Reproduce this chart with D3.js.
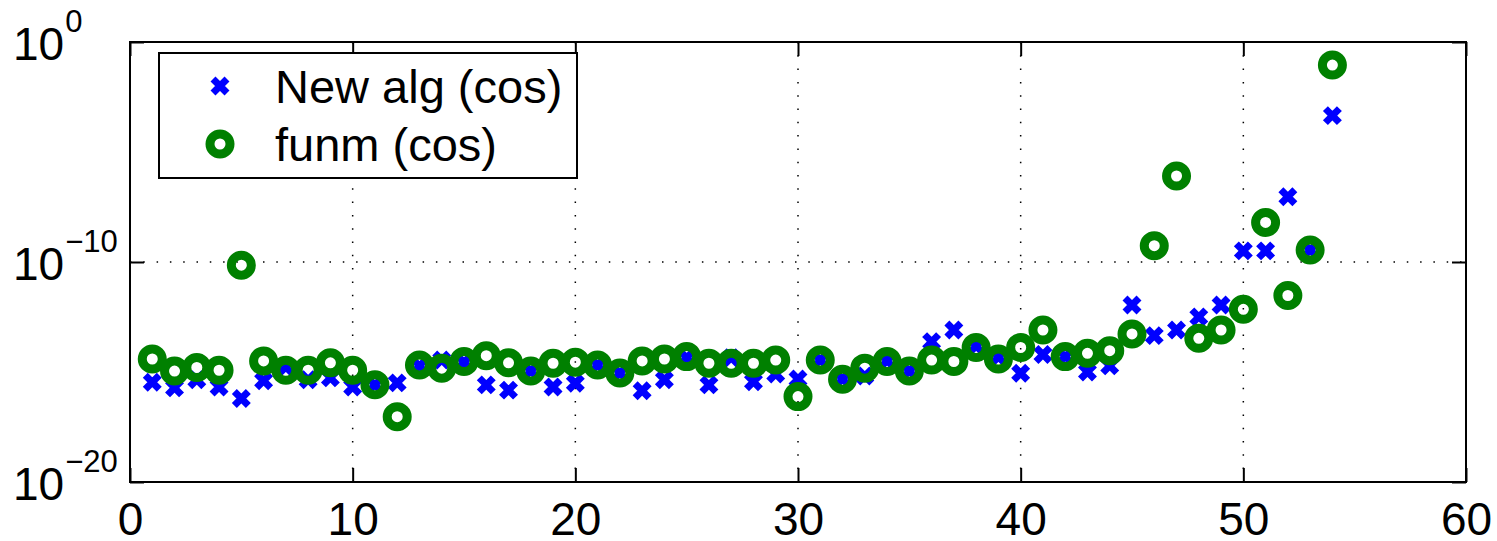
<!DOCTYPE html>
<html>
<head>
<meta charset="utf-8">
<script src="https://cdn.jsdelivr.net/npm/d3@7"></script>
<style>
  body { margin: 0; background: #fff; }
  text { font-family: "Liberation Sans", Arial, Helvetica, sans-serif; fill: #000; }
</style>
</head>
<body>
<div id="chart"></div>
<script>
// data: index 1..54
var idx = d3.range(1, 55);

var newAlg = [
  3.4e-16, 1.9e-16, 4.4e-16, 2.1e-16, 6.3e-17, 4.0e-16, 1.7e-15, 4.4e-16, 5.4e-16, 2.1e-16,
  2.6e-16, 3.2e-16, 1.9e-15, 3.5e-15, 2.8e-15, 2.6e-16, 1.5e-16, 1.1e-15, 2.1e-16, 3.1e-16,
  2.1e-15, 8.9e-16, 1.4e-16, 4.4e-16, 4.4e-15, 2.6e-16, 4.4e-15, 3.6e-16, 8.1e-16, 4.8e-16,
  3.5e-15, 4.8e-16, 6.6e-16, 3.2e-15, 1.1e-15, 2.4e-14, 8.1e-14, 1.5e-14, 4.8e-15, 8.7e-16,
  6.3e-15, 5.0e-15, 1.0e-15, 1.9e-15, 1.1e-12, 4.5e-14, 8.1e-14, 3.2e-13, 1.1e-12, 3.2e-10,
  3.2e-10, 9.3e-8, 3.5e-10, 4.5e-4
];

var funm = [
  3.9e-15, 1.1e-15, 1.6e-15, 1.2e-15, 7.2e-11, 3.2e-15, 1.2e-15, 1.2e-15, 2.6e-15, 1.2e-15,
  2.6e-16, 9.3e-18, 2.1e-15, 1.5e-15, 3.0e-15, 5.5e-15, 2.6e-15, 1.1e-15, 2.5e-15, 2.8e-15,
  2.1e-15, 8.9e-16, 3.2e-15, 3.9e-15, 5.0e-15, 2.5e-15, 2.5e-15, 2.5e-15, 3.5e-15, 7.6e-17,
  3.5e-15, 4.7e-16, 1.5e-15, 3.0e-15, 1.1e-15, 3.5e-15, 3.0e-15, 1.3e-14, 3.9e-15, 1.3e-14,
  8.1e-14, 5.0e-15, 7.1e-15, 9.3e-15, 5.4e-14, 5.5e-10, 8.1e-7, 3.4e-14, 8.1e-14, 7.1e-13,
  6.3e-9, 3.0e-12, 3.5e-10, 8.9e-2
];

var xTicks = [0, 10, 20, 30, 40, 50, 60];
var yTicks = [1e-20, 1e-10, 1e0];
var yExps = ["\u221220", "\u221210", "0"];
var legendLabels = ["New alg (cos)", "funm (cos)"];

var svgWidth = 1497;
var svgHeight = 541;

var margin = { top: 42, bottom: 59, left: 130, right: 31 };
var width = svgWidth - margin.left - margin.right;
var height = svgHeight - margin.top - margin.bottom;

var svg = d3.select("#chart").append("svg")
  .attr("width", svgWidth).attr("height", svgHeight);

var chartGroup = svg.append("g")
  .attr("transform", `translate(${margin.left}, ${margin.top})`);

var x = d3.scaleLinear().domain([0, 60]).range([0, width]);
var y = d3.scaleLog().domain([1e-20, 1e0]).range([height, 0]);

// dotted grid
chartGroup.selectAll(".xgrid")
  .data(xTicks.slice(1, -1))
  .enter().append("line")
  .attr("x1", d => x(d)).attr("x2", d => x(d))
  .attr("y1", 0).attr("y2", height)
  .attr("stroke", "#000").attr("stroke-width", 1.5)
  .attr("stroke-dasharray", "1.5,11.8");

chartGroup.selectAll(".ygrid")
  .data(yTicks.slice(1, -1))
  .enter().append("line")
  .attr("x1", 0).attr("x2", width)
  .attr("y1", d => y(d)).attr("y2", d => y(d))
  .attr("stroke", "#000").attr("stroke-width", 1.5)
  .attr("stroke-dasharray", "1.5,11.8");

// axes, ticks point inward
var bottomAxis = d3.axisBottom(x).tickValues(xTicks).tickSize(-14).tickPadding(20);
var topAxis = d3.axisTop(x).tickValues(xTicks).tickSize(-14).tickFormat("");
var leftAxis = d3.axisLeft(y).tickValues(yTicks).tickSize(-14).tickFormat("");
var rightAxis = d3.axisRight(y).tickValues(yTicks).tickSize(-14).tickFormat("");

function styleAxis(g) {
  g.select(".domain").remove();
  g.selectAll(".tick line").attr("stroke", "#000").attr("stroke-width", 2);
  g.selectAll("text").attr("font-size", 46)
    .attr("font-family", "'Liberation Sans', Arial, sans-serif");
}

chartGroup.append("g").attr("transform", `translate(0, ${height})`).call(bottomAxis).call(styleAxis);
chartGroup.append("g").call(topAxis).call(styleAxis);
chartGroup.append("g").call(leftAxis).call(styleAxis);
chartGroup.append("g").attr("transform", `translate(${width}, 0)`).call(rightAxis).call(styleAxis);

// y labels as 10^n, left aligned like the original
var yLab = chartGroup.selectAll(".ylab")
  .data(yTicks)
  .enter().append("text")
  .attr("x", -117)
  .attr("y", d => y(d) + 18)
  .attr("text-anchor", "start")
  .attr("font-size", 46);
yLab.append("tspan").text("10");
yLab.append("tspan")
  .attr("dx", 1)
  .attr("dy", -28)
  .attr("font-size", 31)
  .text((d, i) => yExps[i]);

// box
chartGroup.append("rect")
  .attr("width", width).attr("height", height)
  .attr("fill", "none").attr("stroke", "#000").attr("stroke-width", 2);

// markers
var xPath = "M-7,-7L7,7M-7,7L7,-7";

chartGroup.selectAll(".newalg")
  .data(idx)
  .enter().append("path")
  .attr("d", xPath)
  .attr("transform", (d, i) => `translate(${x(d)}, ${y(newAlg[i])})`)
  .attr("stroke", "#0000ff").attr("stroke-width", 7).attr("fill", "none");

chartGroup.selectAll(".funm")
  .data(idx)
  .enter().append("circle")
  .attr("cx", d => x(d))
  .attr("cy", (d, i) => y(funm[i]))
  .attr("r", 10)
  .attr("fill", "none")
  .attr("stroke", "#008000").attr("stroke-width", 9);

// legend
var legend = svg.append("g");
legend.append("rect")
  .attr("x", 159).attr("y", 53).attr("width", 418).attr("height", 125)
  .attr("fill", "#fff").attr("stroke", "#000").attr("stroke-width", 2);

legend.append("path")
  .attr("d", xPath)
  .attr("transform", "translate(220, 86)")
  .attr("stroke", "#0000ff").attr("stroke-width", 7).attr("fill", "none");
legend.append("circle")
  .attr("cx", 220).attr("cy", 144).attr("r", 10)
  .attr("fill", "none").attr("stroke", "#008000").attr("stroke-width", 9);

legend.selectAll(".ltext")
  .data(legendLabels)
  .enter().append("text")
  .attr("x", 275)
  .attr("y", (d, i) => 103 + i * 58)
  .attr("font-size", 47)
  .text(d => d);
</script>
</body>
</html>
